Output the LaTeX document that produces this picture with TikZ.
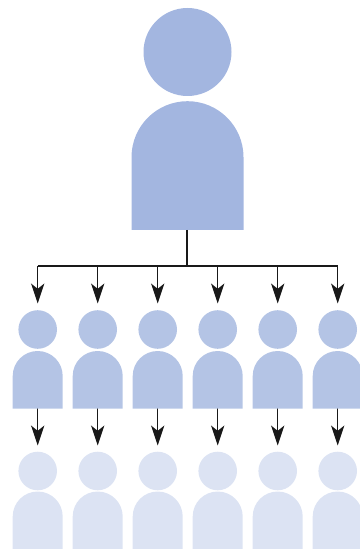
\documentclass[tikz,border=0pt]{standalone}
\usetikzlibrary{arrows.meta}
\definecolor{topblue}{HTML}{A3B6E0}
\definecolor{midblue}{HTML}{B4C4E5}
\definecolor{lowblue}{HTML}{DCE3F3}
\tikzset{
  px/.style={x=0.0264cm,y=-0.0264cm},
  head/.style={circle,inner sep=0pt,minimum size=#1*0.0264cm},
  link/.style={line width=1.05pt,black!90},
  arrowlink/.style={link,-{Stealth[length=15pt,width=10pt,inset=4pt]}}
}
\newcommand{\bodyshape}[4]{\fill[#1] (#2-#4,#3) -- (#2-#4,#3-#4*1.3) arc[start angle=180,end angle=360,radius=#4] -- (#2+#4,#3) -- cycle;}
\begin{document}
\begin{tikzpicture}[px]
  \useasboundingbox (0,0) rectangle (359,549);
  % big figure
  \node[head=88,fill=topblue] (boss) at (187.5,52) {};
  \bodyshape{topblue}{187.5}{230}{56}
  \coordinate (bossfoot) at (187,230);
  \coordinate (bar) at (187,266);
  \draw[link] (bossfoot) -- (bar);
  % two rows below
  \foreach \i/\xx in {1/37.7,2/97.7,3/157.7,4/217.7,5/277.7,6/337.7} {
    \coordinate (t\i) at (\xx,266);
    \coordinate (m\i) at (\xx,303.5);
    \coordinate (s\i) at (\xx,408);
    \coordinate (e\i) at (\xx,445.5);
    \draw[arrowlink] (t\i) -- (m\i);
    \draw[arrowlink] (s\i) -- (e\i);
    \node[head=38.6,fill=midblue] (mid\i) at (\xx,329.5) {};
    \bodyshape{midblue}{\xx}{408.5}{25}
    \node[head=38.6,fill=lowblue] (low\i) at (\xx,471) {};
    \bodyshape{lowblue}{\xx}{549}{25}
  }
  \draw[link] (t1) -- (t6);
\end{tikzpicture}
\end{document}
